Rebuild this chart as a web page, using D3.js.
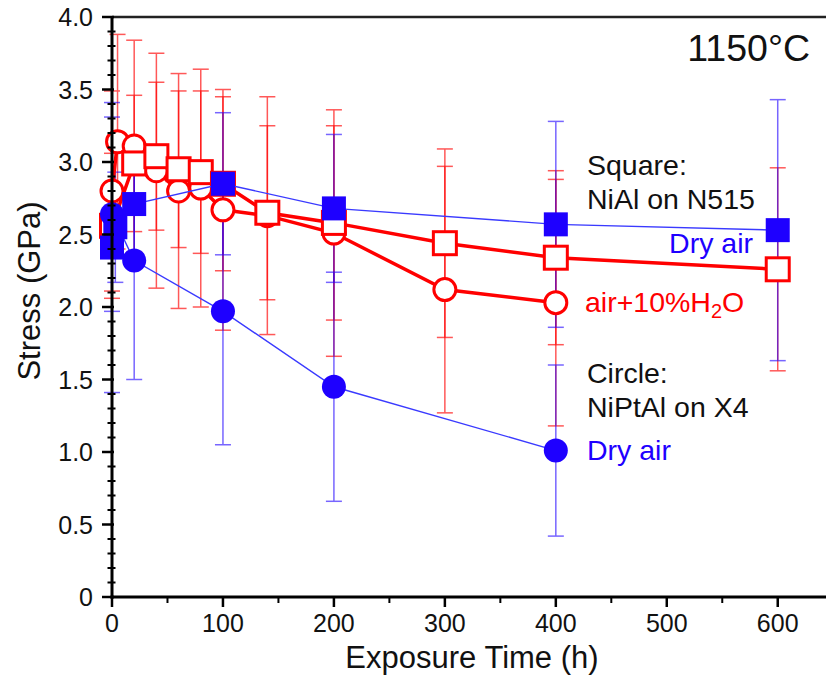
<!DOCTYPE html>
<html>
<head>
<meta charset="utf-8">
<script src="https://cdn.jsdelivr.net/npm/d3@7"></script>
<style>
  html, body { margin: 0; padding: 0; background: #fff; }
  svg { display: block; font-family: "Liberation Sans", Arial, Helvetica, sans-serif; }
</style>
</head>
<body>
<svg id="chart" width="826" height="677"></svg>
<script>
// ---- data (time h, stress GPa, error GPa) ----
const redSquareTime   = [0, 20, 40, 60, 80, 100, 140, 200, 300, 400, 600];
const redSquareStress = [2.56, 2.99, 3.04, 2.95, 2.93, 2.85, 2.65, 2.58, 2.44, 2.34, 2.26];
const redSquareErr    = [0.50, 0.47, 0.51, 0.54, 0.56, 0.60, 0.60, 0.67, 0.65, 0.60, 0.70];

const redCircleTime   = [0, 5, 20, 40, 60, 80, 100, 140, 200, 300, 400];
const redCircleStress = [2.80, 3.14, 3.11, 2.94, 2.80, 2.82, 2.67, 2.63, 2.51, 2.12, 2.03];
const redCircleErr    = [0.69, 0.74, 0.73, 0.81, 0.81, 0.82, 0.83, 0.82, 0.85, 0.85, 0.85];

const blueSquareTime   = [0, 3, 20, 100, 200, 400, 600];
const blueSquareStress = [2.41, 2.55, 2.71, 2.85, 2.68, 2.57, 2.53];
const blueSquareErr    = [1.00, 0.38, 0.40, 0.49, 0.51, 0.71, 0.90];

const blueCircleTime   = [0, 20, 100, 200, 400];
const blueCircleStress = [2.64, 2.32, 1.97, 1.45, 1.01];
const blueCircleErr    = [0.67, 0.82, 0.92, 0.79, 0.59];

const xMajorTicks = [0, 100, 200, 300, 400, 500, 600];
const xMinorTicks = [50, 150, 250, 350, 450, 550];
const yMajorTicks = [0, 0.5, 1.0, 1.5, 2.0, 2.5, 3.0, 3.5, 4.0];
const yTickLabels = ["0", "0.5", "1.0", "1.5", "2.0", "2.5", "3.0", "3.5", "4.0"];
const yMinorTicks = d3.range(0, 40).map(i => i / 10).filter(v => Math.round(v * 10) % 5 !== 0);

// ---- layout ----
const svg = d3.select("#chart");
const x = d3.scaleLinear().domain([0, 643.5]).range([112, 826]);
const y = d3.scaleLinear().domain([0, 4]).range([597, 17]);

const RED = "#ff0000";
const BLUE = "#1e00ff";
const BLUE_LINE = "#3a3aff";

function zip(t, s, e) { return t.map((v, i) => ({ t: v, s: s[i], e: e[i] })); }
const redSq = zip(redSquareTime, redSquareStress, redSquareErr);
const redCi = zip(redCircleTime, redCircleStress, redCircleErr);
const blueSq = zip(blueSquareTime, blueSquareStress, blueSquareErr);
const blueCi = zip(blueCircleTime, blueCircleStress, blueCircleErr);

// ---- error bars ----
function errorBars(data, color, op) {
  const g = svg.append("g").attr("stroke", color).attr("stroke-width", 1.5).attr("opacity", op);
  const cap = 8;
  data.forEach(d => {
    const cx = x(d.t), y1 = y(d.s + d.e), y2 = y(d.s - d.e);
    g.append("line").attr("x1", cx).attr("x2", cx).attr("y1", y1).attr("y2", y2);
    g.append("line").attr("x1", cx - cap).attr("x2", cx + cap).attr("y1", y1).attr("y2", y1);
    g.append("line").attr("x1", cx - cap).attr("x2", cx + cap).attr("y1", y2).attr("y2", y2);
  });
}
errorBars(redSq, RED, 0.65);
errorBars(redCi, RED, 0.65);
errorBars(blueSq, BLUE, 0.6);
errorBars(blueCi, BLUE, 0.6);

// ---- lines ----
const line = d3.line().x(d => x(d.t)).y(d => y(d.s));
svg.append("path").datum(redCi).attr("d", line).attr("fill", "none").attr("stroke", RED).attr("stroke-width", 3.5);
svg.append("path").datum(redSq).attr("d", line).attr("fill", "none").attr("stroke", RED).attr("stroke-width", 3.5);

// ---- red markers ----
svg.append("g").selectAll("circle").data(redCi).join("circle")
  .attr("cx", d => x(d.t)).attr("cy", d => y(d.s)).attr("r", 11)
  .attr("fill", "#fff").attr("stroke", RED).attr("stroke-width", 3);
svg.append("g").selectAll("rect").data(redSq).join("rect")
  .attr("x", d => x(d.t) - 11.5).attr("y", d => y(d.s) - 11.5)
  .attr("width", 23).attr("height", 23)
  .attr("fill", "#fff").attr("stroke", RED).attr("stroke-width", 3);

// ---- blue lines & markers ----
svg.append("path").datum(blueCi).attr("d", line).attr("fill", "none").attr("stroke", BLUE_LINE).attr("stroke-width", 1.4);
svg.append("path").datum(blueSq).attr("d", line).attr("fill", "none").attr("stroke", BLUE_LINE).attr("stroke-width", 1.4);
svg.append("g").selectAll("circle").data(blueCi).join("circle")
  .attr("cx", d => x(d.t)).attr("cy", d => y(d.s)).attr("r", 12)
  .attr("fill", BLUE);
svg.append("g").selectAll("rect").data(blueSq).join("rect")
  .attr("x", d => x(d.t) - 12).attr("y", d => y(d.s) - 12)
  .attr("width", 24).attr("height", 24)
  .attr("fill", BLUE);

// ---- axes ----
const ax = svg.append("g");
ax.append("line").attr("x1", x(0)).attr("x2", 826).attr("y1", y(4)).attr("y2", y(4))
  .attr("stroke", "#222").attr("stroke-width", 2.5);
ax.append("line").attr("x1", x(0)).attr("x2", x(0)).attr("y1", y(4) - 1).attr("y2", y(0) + 1.5)
  .attr("stroke", "#000").attr("stroke-width", 3);
ax.append("line").attr("x1", x(0) - 1.5).attr("x2", 826).attr("y1", y(0)).attr("y2", y(0))
  .attr("stroke", "#000").attr("stroke-width", 3);

yMajorTicks.forEach((v, i) => {
  ax.append("line").attr("x1", x(0) - 10).attr("x2", x(0) + 2).attr("y1", y(v)).attr("y2", y(v))
    .attr("stroke", "#000").attr("stroke-width", 2.5);
  ax.append("text").attr("x", 93).attr("y", y(v)).attr("dy", "0.36em")
    .attr("text-anchor", "end").attr("font-size", 25).attr("fill", "#111").text(yTickLabels[i]);
});
yMinorTicks.forEach(v => {
  ax.append("line").attr("x1", x(0) - 4.5).attr("x2", x(0) + 3.5).attr("y1", y(v)).attr("y2", y(v))
    .attr("stroke", "#000").attr("stroke-width", 2);
});
xMajorTicks.forEach(v => {
  ax.append("line").attr("x1", x(v)).attr("x2", x(v)).attr("y1", y(0)).attr("y2", y(0) + 10)
    .attr("stroke", "#000").attr("stroke-width", 2.5);
  ax.append("text").attr("x", x(v)).attr("y", 632).attr("text-anchor", "middle")
    .attr("font-size", 25).attr("fill", "#111").text(v);
});
xMinorTicks.forEach(v => {
  ax.append("line").attr("x1", x(v)).attr("x2", x(v)).attr("y1", y(0)).attr("y2", y(0) + 6)
    .attr("stroke", "#000").attr("stroke-width", 2);
});

// axis titles
svg.append("text").attr("x", 472).attr("y", 668).attr("text-anchor", "middle")
  .attr("font-size", 31).attr("fill", "#111").text("Exposure Time (h)");
svg.append("text").attr("transform", "translate(40,291) rotate(-90)").attr("text-anchor", "middle")
  .attr("font-size", 31).attr("fill", "#111").text("Stress (GPa)");

// annotations
svg.append("text").attr("x", 810).attr("y", 61).attr("text-anchor", "end")
  .attr("font-size", 37.5).attr("fill", "#111").text("1150°C");

const ann = svg.append("g").attr("font-size", 28.5);
ann.append("text").attr("x", 587).attr("y", 175).attr("fill", "#111").text("Square:");
ann.append("text").attr("x", 587).attr("y", 209).attr("fill", "#111").text("NiAl on N515");
ann.append("text").attr("x", 753).attr("y", 253).attr("text-anchor", "end").attr("fill", BLUE).text("Dry air");
const h2o = ann.append("text").attr("x", 585).attr("y", 312).attr("fill", RED);
h2o.append("tspan").text("air+10%H");
h2o.append("tspan").attr("font-size", 20).attr("dy", 6).text("2");
h2o.append("tspan").attr("dy", -6).text("O");
ann.append("text").attr("x", 587).attr("y", 383).attr("fill", "#111").text("Circle:");
ann.append("text").attr("x", 587).attr("y", 417).attr("fill", "#111").text("NiPtAl on X4");
ann.append("text").attr("x", 587).attr("y", 460).attr("fill", BLUE).text("Dry air");
</script>
</body>
</html>
